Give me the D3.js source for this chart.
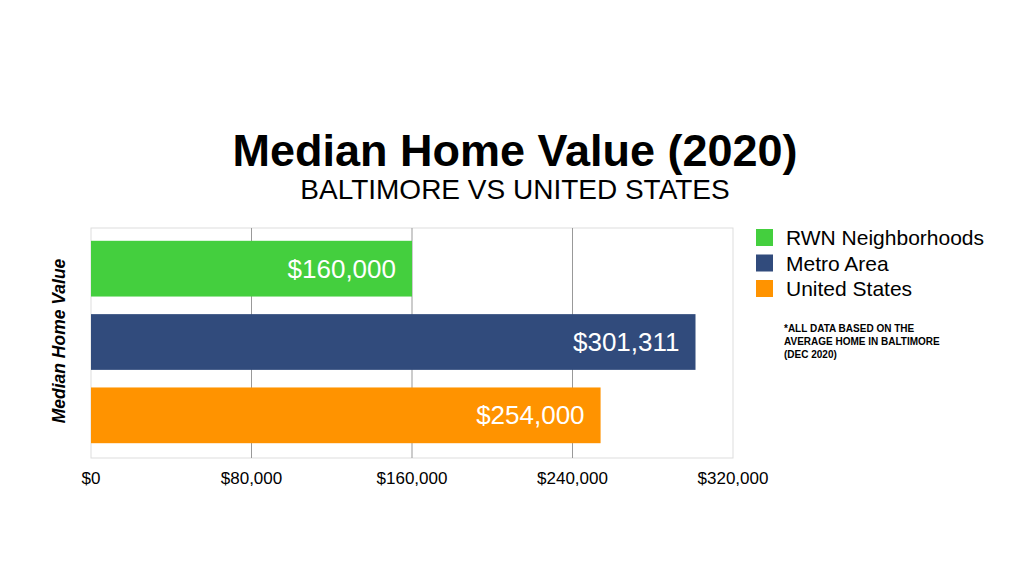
<!DOCTYPE html>
<html><head><meta charset="utf-8">
<script src="https://cdn.jsdelivr.net/npm/d3@7"></script>
<style>body{margin:0;background:#fff;font-family:"Liberation Sans",Arial,sans-serif}</style>
</head><body><svg id="chart" width="1024" height="576"></svg>
<script>
// chart data
var categories = ['RWN Neighborhoods', 'Metro Area', 'United States'];
var values = [160000, 301311, 254000];
var colors = ['#44CF3E', '#314B7C', '#FF9300'];
var ticks = [0, 80000, 160000, 240000, 320000];

var svg = d3.select('#chart');
var plotLeft = 91, plotRight = 733, plotTop = 228, plotBottom = 458;

var x = d3.scaleLinear().domain([0, 320000]).range([plotLeft, plotRight]);
var y = d3.scaleBand().domain(categories).range([232, 452]).paddingInner(0.24).paddingOuter(0.12);

// plot frame and gridlines
svg.append('rect').attr('x', plotLeft).attr('y', plotTop).attr('width', plotRight - plotLeft).attr('height', plotBottom - plotTop)
    .attr('fill', 'none').attr('stroke', '#ddd');
svg.selectAll('.grid').data(ticks.slice(1, 4)).enter().append('line').attr('class', 'grid')
    .attr('x1', d => x(d)).attr('x2', d => x(d)).attr('y1', plotTop).attr('y2', plotBottom)
    .attr('stroke', '#999').attr('stroke-width', 1);

var fmt = d3.format('$,');
svg.selectAll('.bar').data(values).enter().append('rect').attr('class', 'bar')
    .attr('x', x(0)).attr('y', (d, i) => y(categories[i]))
    .attr('width', d => x(d) - x(0)).attr('height', y.bandwidth())
    .attr('fill', (d, i) => colors[i]);
svg.selectAll('.lbl').data(values).enter().append('text').attr('class', 'lbl')
    .attr('x', d => x(d) - 16).attr('y', (d, i) => y(categories[i]) + y.bandwidth() / 2 + 9)
    .attr('text-anchor', 'end').attr('fill', '#fff').attr('font-size', 26)
    .text(d => fmt(d));

// x axis tick labels
svg.selectAll('.tk').data(ticks).enter().append('text').attr('class', 'tk')
    .attr('x', d => x(d)).attr('y', 484).attr('text-anchor', 'middle')
    .attr('font-size', 17).text(d => fmt(d));

// y axis title
svg.append('text').attr('transform', 'translate(65,341) rotate(-90)')
    .attr('text-anchor', 'middle').attr('font-size', 17.5).attr('font-weight', 'bold')
    .attr('font-style', 'italic').text('Median Home Value');

// titles
svg.append('text').attr('x', 515).attr('y', 166).attr('text-anchor', 'middle')
    .attr('font-size', 45).attr('font-weight', 'bold').text('Median Home Value (2020)');
svg.append('text').attr('x', 515).attr('y', 199).attr('text-anchor', 'middle')
    .attr('font-size', 28).text('BALTIMORE VS UNITED STATES');

// legend
var leg = svg.selectAll('.leg').data(categories).enter().append('g').attr('class', 'leg')
    .attr('transform', (d, i) => 'translate(756,' + (229 + i * 25.5) + ')');
leg.append('rect').attr('width', 17).attr('height', 17).attr('fill', (d, i) => colors[i]);
leg.append('text').attr('x', 30).attr('y', 16).attr('font-size', 21).text(d => d);

// note
var note = ['*ALL DATA BASED ON THE', 'AVERAGE HOME IN BALTIMORE', '(DEC 2020)'];
svg.selectAll('.note').data(note).enter().append('text').attr('class', 'note')
    .attr('x', 784).attr('y', (d, i) => 332 + i * 13)
    .attr('font-size', 10).attr('font-weight', 'bold').text(d => d);
</script>
</body></html>
